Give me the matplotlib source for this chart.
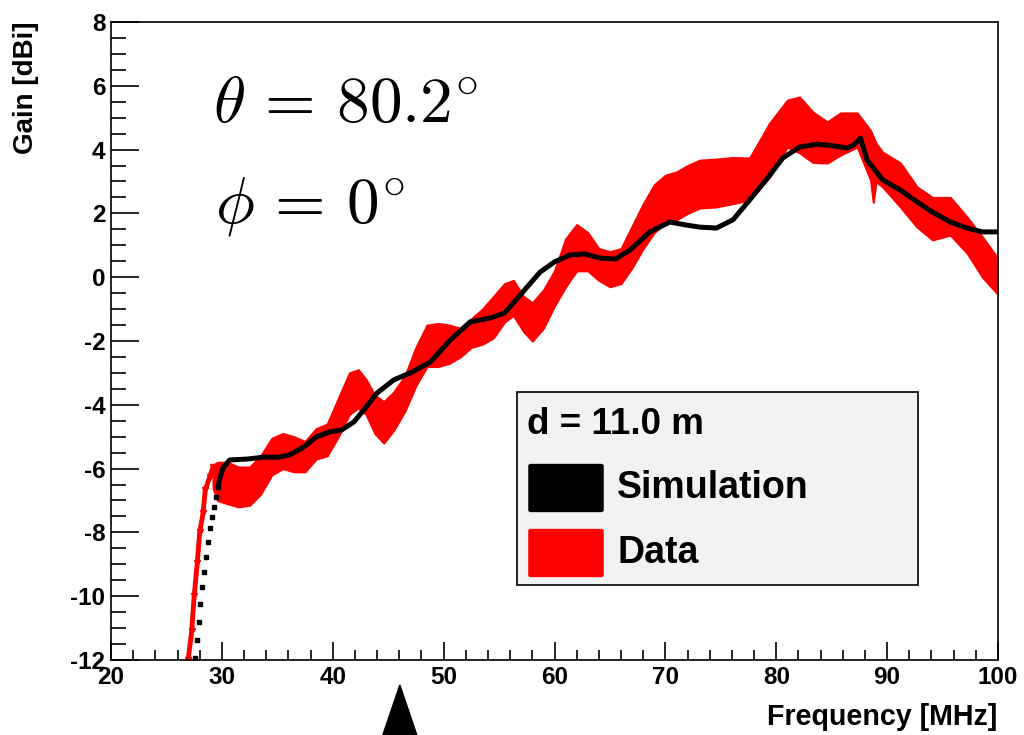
import matplotlib
matplotlib.use("Agg")
import matplotlib.pyplot as plt
from matplotlib.patches import Rectangle, FancyBboxPatch, Polygon
from matplotlib.ticker import MultipleLocator

plt.rcParams["font.family"] = ["Liberation Sans", "DejaVu Sans"]
plt.rcParams["font.weight"] = "bold"
plt.rcParams["mathtext.fontset"] = "cm"
plt.rcParams["axes.unicode_minus"] = False

# ---- simulated gain: steep rising edge (discrete samples) ----
sim_rise_freq = [27.57, 27.75, 27.94, 28.07, 28.20, 28.39, 28.61, 28.75,
                 28.93, 29.11, 29.29, 29.47, 29.65]
sim_rise_gain = [-11.94, -11.37, -10.81, -10.24, -9.71, -9.24, -8.77, -8.30,
                 -7.86, -7.52, -7.20, -6.89, -6.58]

# ---- simulated gain: main curve ----
sim_freq = [29.65, 29.83, 30.1, 30.7, 32.3, 33.8, 35.2, 36.1, 37.4, 38.5, 39.7,
            40.8, 41.9, 42.8, 44.0, 45.5, 47.0, 48.8, 50.6, 52.4, 54.2, 55.5,
            56.9, 58.7, 60.0, 61.4, 62.7, 64.1, 65.5, 66.8, 68.6, 70.4, 71.8,
            73.1, 74.6, 76.1, 77.6, 79.2, 80.6, 82.1, 83.7, 85.1, 86.4, 87.0,
            87.6, 88.2, 89.6, 91.2, 92.7, 94.1, 95.7, 97.2, 98.6, 100.0]
sim_gain = [-6.58, -6.29, -5.98, -5.73, -5.70, -5.64, -5.64, -5.57, -5.32, -5.01,
            -4.85, -4.79, -4.54, -4.16, -3.63, -3.22, -3.00, -2.66, -1.97, -1.40,
            -1.28, -1.12, -0.56, 0.16, 0.48, 0.70, 0.73, 0.60, 0.57, 0.85, 1.42,
            1.73, 1.64, 1.57, 1.54, 1.80, 2.42, 3.10, 3.74, 4.08, 4.17, 4.12,
            4.05, 4.15, 4.36, 3.67, 3.05, 2.73, 2.36, 2.04, 1.73, 1.54, 1.42,
            1.42]

# ---- measured gain: steep rising edge ----
data_rise_freq = [26.95, 27.28, 27.50, 27.78, 28.00, 28.30, 28.50, 28.90, 29.20]
data_rise_gain = [-12.0, -11.1, -10.0, -8.96, -8.0, -7.4, -6.67, -6.26, -5.95]

# ---- measured gain: band (lower / upper edge) ----
data_freq = [29.2, 29.6, 30.5, 31.5, 32.5, 33.5, 34.5, 35.5, 36.5, 37.5, 38.5,
             39.5, 40.5, 41.5, 42.3, 43.0, 43.8, 44.6, 45.5, 46.5, 47.5, 48.5,
             49.5, 50.5, 51.5, 52.5, 53.5, 54.5, 55.5, 56.3, 57.2, 58.0, 59.0,
             60.0, 61.0, 62.0, 63.0, 64.0, 65.0, 66.0, 67.0, 68.0, 69.0, 70.0,
             71.0, 72.0, 73.1, 74.5, 76.0, 77.6, 79.4, 81.0, 82.1, 83.3, 84.6,
             85.8, 87.3, 88.5, 88.75, 89.0, 89.6, 91.2, 92.7, 94.1, 95.7, 97.2,
             98.6, 99.9]
data_low = [-6.6, -7.0, -7.1, -7.2, -7.15, -6.8, -6.2, -6.0, -6.1, -6.1, -5.7,
            -5.6, -5.0, -4.3, -4.1, -4.3, -4.9, -5.2, -4.8, -4.2, -3.4, -2.8,
            -2.8, -2.7, -2.5, -2.2, -2.1, -1.9, -1.4, -1.2, -1.7, -2.0, -1.6,
            -0.9, -0.3, 0.2, 0.2, -0.1, -0.3, -0.2, 0.3, 0.9, 1.4, 1.7,
            1.8, 2.0, 2.17, 2.2, 2.3, 2.42, 3.14, 4.08, 3.9, 3.6, 3.58,
            3.83, 4.08, 3.05, 2.35, 3.0, 2.83, 2.2, 1.57, 1.17, 1.32, 0.76,
            0.0, -0.5]
data_high = [-5.9, -5.8, -5.8, -5.95, -5.95, -5.6, -5.05, -4.9, -5.0, -5.15, -4.75,
             -4.6, -3.8, -3.0, -2.9, -3.2, -3.7, -3.9, -3.6, -3.1, -2.2, -1.5,
             -1.45, -1.5, -1.6, -1.3, -1.0, -0.6, -0.2, -0.1, -0.6, -0.8, -0.4,
             0.2, 1.2, 1.65, 1.4, 0.9, 0.8, 0.9, 1.6, 2.3, 2.9, 3.2,
             3.3, 3.5, 3.67, 3.7, 3.75, 3.74, 4.83, 5.55, 5.65, 5.18, 4.87,
             5.15, 5.15, 4.6, 4.4, 4.2, 3.92, 3.58, 2.83, 2.5, 2.5, 1.89,
             1.26, 0.63]

legend_header = "d = 11.0 m"
legend_labels = ["Simulation", "Data"]
ARROW_FREQ = 46.05

W, H = 1024, 735
fig = plt.figure(figsize=(W / 100, H / 100), dpi=100)
ax = fig.add_axes([111 / W, 1 - 660 / H, (998 - 111) / W, (660 - 22) / H])


def fx(px):
    return px / W


def fy(py):
    return 1 - py / H


RED = "#ff0000"

# measured band
ax.fill_between(data_freq, data_low, data_high, color=RED, lw=1.5,
                edgecolor=RED, zorder=2)
ax.plot(data_rise_freq, data_rise_gain, color=RED, lw=3.5, marker="v",
        ms=4.5, mec=RED, mfc=RED, zorder=2)

# simulation
ax.plot(sim_freq, sim_gain, color="black", lw=3.6, solid_joinstyle="round",
        solid_capstyle="round", zorder=3)
ax.plot(sim_rise_freq, sim_rise_gain, ls="none", marker="s", ms=3.3,
        color="black", zorder=3)

ax.set_xlim(20, 100)
ax.set_ylim(-12, 8)
ax.xaxis.set_major_locator(MultipleLocator(10))
ax.xaxis.set_minor_locator(MultipleLocator(2))
ax.yaxis.set_major_locator(MultipleLocator(2))
ax.yaxis.set_minor_locator(MultipleLocator(0.5))
ax.tick_params(axis="x", which="major", direction="in", length=13, width=1.2,
               labelsize=17.5, pad=4, top=False)
ax.tick_params(axis="x", which="minor", direction="in", length=7, width=1.2,
               top=False)
ax.tick_params(axis="y", which="major", direction="in", length=20, width=1.2,
               labelsize=17.5, pad=4, right=False)
ax.tick_params(axis="y", which="minor", direction="in", length=11, width=1.2,
               right=False)
for lab in ax.get_xticklabels() + ax.get_yticklabels():
    lab.set_fontweight("bold")
for sp in ax.spines.values():
    sp.set_linewidth(1.2)

fig.text(fx(26), fy(22), "Gain [dBi]", rotation=90, ha="center", va="top",
         fontsize=20, fontweight="bold")
fig.text(fx(997), fy(717), "Frequency [MHz]", ha="right", va="center",
         fontsize=20.6, fontweight="bold")

fig.text(fx(213), fy(122), r"$\theta\,=\,80.2^{\circ}$", ha="left",
         va="baseline", fontsize=47)
fig.text(fx(215), fy(222), r"$\phi\,=\,0^{\circ}$", ha="left",
         va="baseline", fontsize=47)

# legend box
fig.patches.append(Rectangle((fx(517), fy(585)), fx(918) - fx(517),
                             fy(392) - fy(585), transform=fig.transFigure,
                             facecolor="#f2f2f2", edgecolor="black", lw=1.2,
                             zorder=5))
fig.text(fx(527), fy(425), legend_header, ha="left", va="center",
         fontsize=26.5, fontweight="bold", zorder=6)
for (top, bot), col, lab in zip([(464, 512), (529, 577)], ["black", RED],
                                legend_labels):
    fig.patches.append(FancyBboxPatch((fx(531), fy(bot - 2)),
                                      fx(601) - fx(531), fy(top + 2) - fy(bot - 2),
                                      boxstyle="round,pad=0.002",
                                      transform=fig.transFigure,
                                      facecolor=col, edgecolor=col, lw=1,
                                      zorder=6))
    fig.text(fx(617), fy((top + bot) / 2), lab, ha="left", va="center",
             fontsize=27, fontweight="bold", zorder=6)

# marker arrow below the axis
ax_x0 = ax.transData.transform((ARROW_FREQ, 0))[0]
half = 17 / W
xc = fig.transFigure.inverted().transform((ax_x0, 0))[0]
fig.patches.append(Polygon([(xc, fy(685)), (xc - half, fy(735)),
                            (xc + half, fy(735))], closed=True,
                           transform=fig.transFigure, facecolor="black",
                           edgecolor="black", zorder=6))

fig.savefig("out.png", dpi=100)
